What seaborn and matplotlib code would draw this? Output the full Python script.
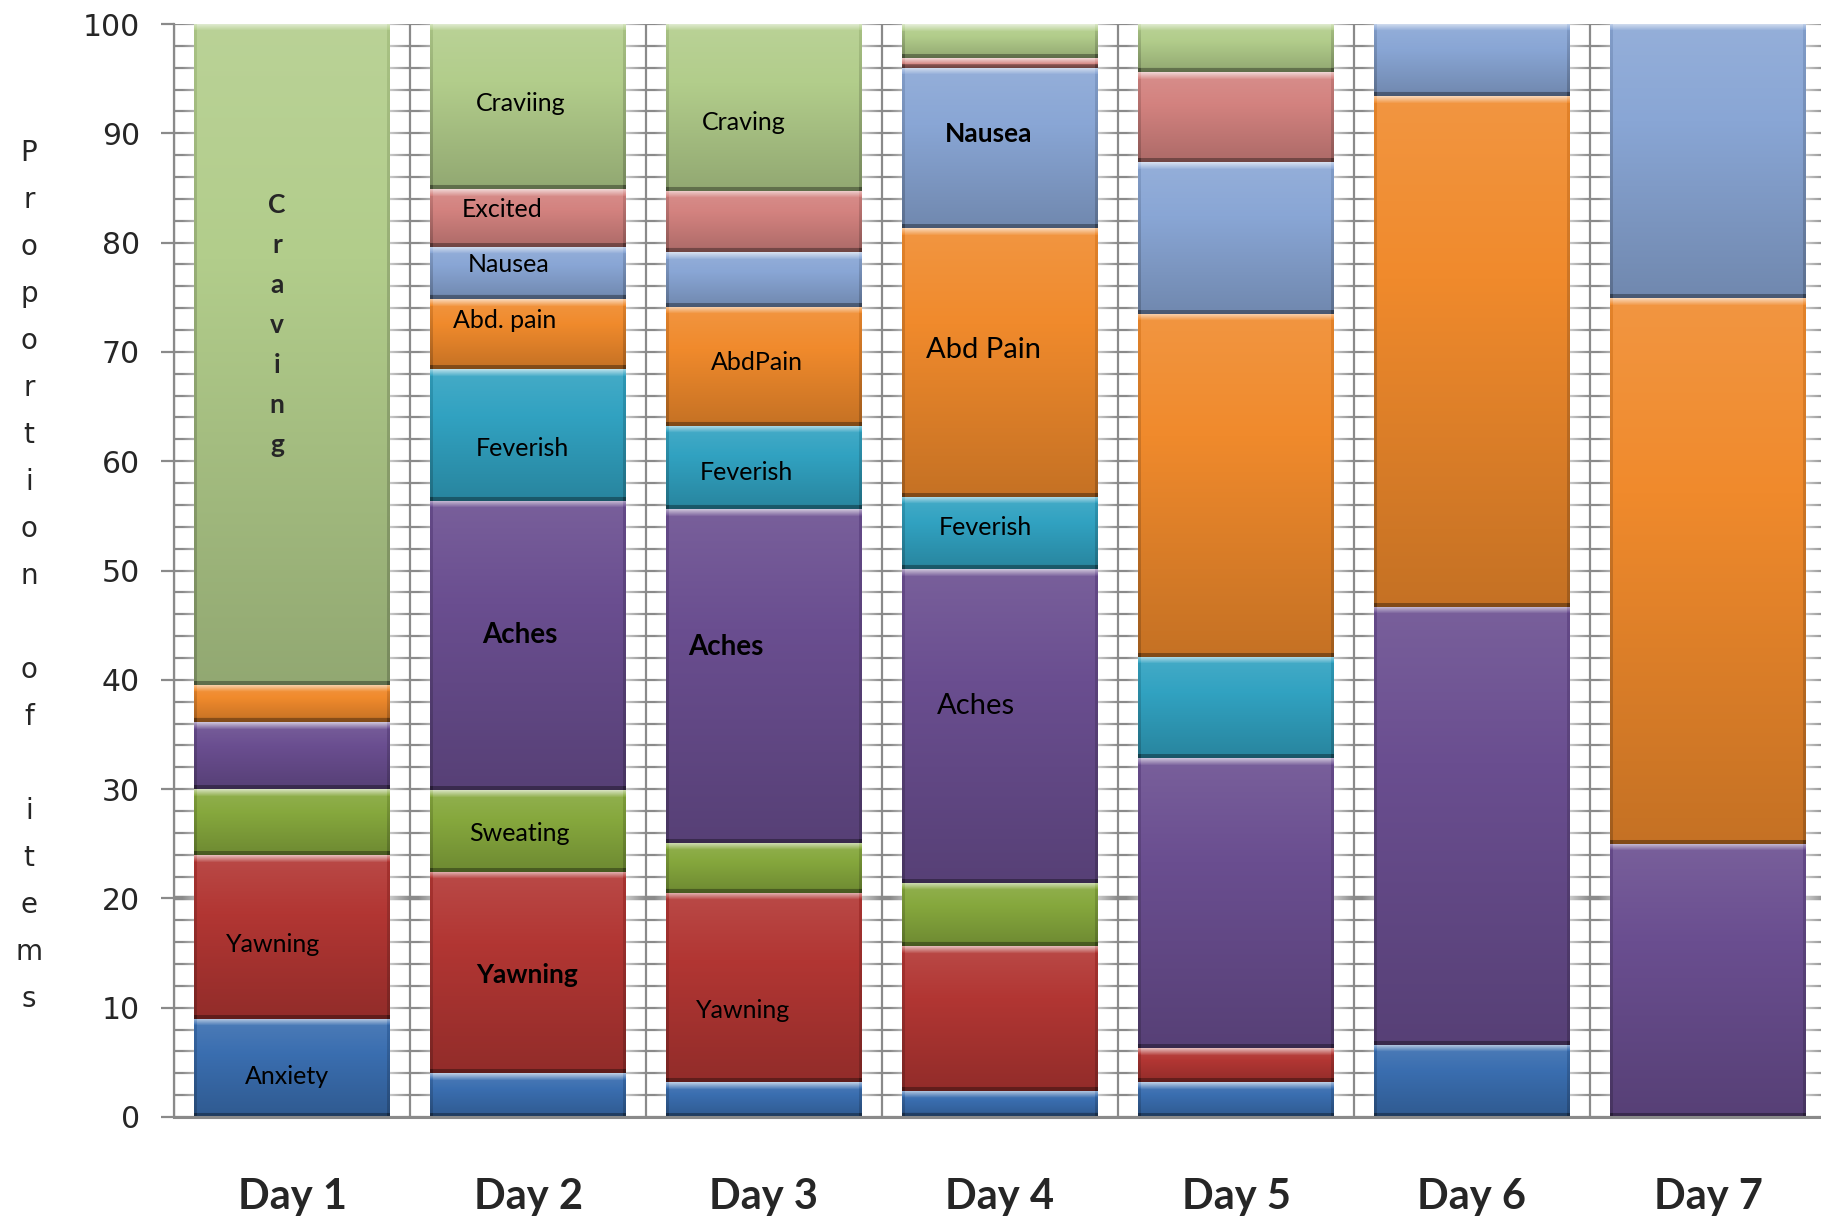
import numpy as np
import pandas as pd
import matplotlib
matplotlib.use("Agg")
import matplotlib.pyplot as plt
import seaborn as sns
from matplotlib.colors import to_rgb

# ---------------- data ----------------
days = ["Day 1", "Day 2", "Day 3", "Day 4", "Day 5", "Day 6", "Day 7"]
symptoms = ["Anxiety", "Yawning", "Sweating", "Aches", "Feverish",
            "Abd pain", "Nausea", "Excited", "Craving"]
anxiety  = [9.0, 4.0, 3.2, 2.4, 3.2, 6.6, 0.0]
yawning  = [15.0, 18.4, 17.3, 13.2, 3.1, 0.0, 0.0]
sweating = [6.0, 7.5, 4.6, 5.8, 0.0, 0.0, 0.0]
aches    = [6.1, 26.5, 30.5, 28.7, 26.5, 40.1, 25.0]
feverish = [0.0, 12.0, 7.6, 6.6, 9.3, 0.0, 0.0]
abd_pain = [3.4, 6.4, 10.9, 24.6, 31.4, 46.7, 49.9]
nausea   = [0.0, 4.8, 5.0, 14.7, 13.9, 6.6, 25.1]
excited  = [0.0, 5.3, 5.6, 0.9, 8.2, 0.0, 0.0]
craving  = [60.5, 15.1, 15.3, 3.1, 4.4, 0.0, 0.0]
series = [anxiety, yawning, sweating, aches, feverish, abd_pain, nausea, excited, craving]
colors = ["#3a6eb0", "#b23633", "#86a83d", "#6a4e90", "#31a2c1",
          "#f08a2c", "#89a6d5", "#d3827f", "#b2cd8b"]

# in-bar labels
lab_day    = [0, 0, 1, 1, 1, 1, 1, 1, 1, 1, 2, 2, 2, 2, 2, 3, 3, 3, 3]
lab_text   = ["Anxiety", "Yawning", "Craviing", "Excited", "Nausea", "Abd. pain",
              "Feverish", "Aches", "Sweating", "Yawning", "Craving", "AbdPain",
              "Feverish", "Aches", "Yawning", "Nausea", "Abd Pain", "Feverish", "Aches"]
lab_y      = [3.7, 15.8, 92.7, 83.0, 78.0, 72.9, 61.2, 44.1, 25.9, 13.0, 91.0, 69.0,
              59.0, 43.0, 9.7, 89.9, 70.2, 53.9, 37.6]
lab_dx     = [-0.02, -0.08, -0.03, -0.11, -0.08, -0.10, -0.025, -0.035, -0.035, -0.005,
              -0.085, -0.03, -0.075, -0.16, -0.09, -0.05, -0.07, -0.06, -0.10]
lab_size   = [18, 18, 18, 18, 18, 18, 18, 20, 18, 19, 18, 18, 18, 20, 18, 19, 21, 18, 21]
lab_weight = ["normal"] * 7 + ["bold", "normal", "bold"] + ["normal"] * 3 + \
             ["bold", "normal", "bold", "normal", "normal", "normal"]

# ---------------- figure ----------------
sns.set_theme(style="white")
plt.rcParams["font.family"] = ["DejaVu Sans"]

W, H = 1821, 1221
fig = plt.figure(figsize=(W / 100, H / 100), dpi=100)
ax_l, ax_r, ax_b, ax_t = 174, 1826, 1117, 24
ax = fig.add_axes([ax_l / W, 1 - ax_b / H, (ax_r - ax_l) / W, (ax_b - ax_t) / H])
PX_PER_UNIT = (ax_b - ax_t) / 100.0
PX_PER_CAT = (ax_r - ax_l) / 7.0

BAR_W = 0.83
bottom = np.zeros(len(days))
for vals, col, name in zip(series, colors, symptoms):
    sns.barplot(x=days, y=vals, bottom=bottom.copy(), color=col, width=BAR_W,
                saturation=1, errorbar=None, ax=ax, linewidth=0, zorder=2)
    bottom = bottom + np.array(vals)

GRID = "#8a8a8a"


def shade_patch(patch):
    x0, y0 = patch.get_x(), patch.get_y()
    w, h = patch.get_width(), patch.get_height()
    if h <= 0.01:
        patch.set_visible(False)
        return
    base = np.array(to_rgb(patch.get_facecolor()))
    nr = max(int(round(h * PX_PER_UNIT)), 3)
    nc = max(int(round(w * PX_PER_CAT)), 6)
    r = np.arange(nr)[:, None] * np.ones((1, nc))
    c = np.ones((nr, 1)) * np.arange(nc)[None, :]
    f = np.linspace(0.10, -0.18, nr)[:, None] * np.ones((1, nc))
    f = f + 0.55 * np.clip(1 - r / 7.0, 0, 1)
    f = np.where(r >= nr - 4, f - 0.28, f)
    f = np.where((c < 3) | (c >= nc - 3), f - 0.15, f)
    f3 = f[..., None]
    rgb = np.where(f3 > 0, base + f3 * (1 - base), base * (1 + f3))
    ax.imshow(np.clip(rgb, 0, 1), extent=(x0, x0 + w, y0, y0 + h), aspect="auto",
              interpolation="bilinear", zorder=2.1)


for p in list(ax.patches):
    shade_patch(p)

# soft white glow beside each bar
glow_r = np.ones((2, 40, 4))
glow_r[..., 3] = np.linspace(0.55, 0.0, 40)[None, :]
glow_l = glow_r[:, ::-1, :]
gw = 20 / PX_PER_CAT
for i in range(len(days)):
    x1 = i + BAR_W / 2
    x0 = i - BAR_W / 2
    ax.imshow(glow_r, extent=(x1, x1 + gw, 0, 100), aspect="auto",
              interpolation="bilinear", zorder=1.5)
    ax.imshow(glow_l, extent=(x0 - gw * 0.6, x0, 0, 100), aspect="auto",
              interpolation="bilinear", zorder=1.5, alpha=0.6)

# axes / grid
ax.set_xlim(-0.5, -0.5 + (ax_r - ax_l) / PX_PER_CAT)
ax.set_ylim(0, 100)
ax.set_yticks(np.arange(0, 101, 10))
ax.set_yticks(np.arange(0, 101, 2), minor=True)
ax.set_xticks(np.arange(-0.5, 7.0, 1.0), minor=True)
ax.set_axisbelow(True)
ax.grid(which="both", axis="y", color=GRID, lw=1.6)
ax.grid(which="minor", axis="x", color=GRID, lw=1.6)
ax.grid(which="major", axis="x", visible=False)
ax.axhline(20, color=GRID, lw=3.2, zorder=0.6)
for s in ["top", "right"]:
    ax.spines[s].set_visible(False)
ax.spines["left"].set_color(GRID)
ax.spines["left"].set_linewidth(1.6)
ax.spines["bottom"].set_color(GRID)
ax.spines["bottom"].set_linewidth(2.2)
ax.tick_params(axis="y", which="major", length=9.4, width=1.6, color=GRID,
               pad=15, labelsize=21.5, left=True)
ax.tick_params(axis="y", which="minor", length=0)
ax.tick_params(axis="x", which="both", length=0, pad=44)
ax.set_xticks(range(len(days)))
ax.set_xticklabels(days, fontsize=30, fontweight="bold", family="Lato")
ax.set_xlabel("")
ax.set_ylabel("")

# in-bar labels
for d, t, y, dx, sz, wt in zip(lab_day, lab_text, lab_y, lab_dx, lab_size, lab_weight):
    ax.text(d + dx, y, t, ha="center", va="center", fontsize=sz, fontweight=wt,
            family="Lato", color="black", zorder=5)

# vertical "Craving" on Day 1
ax.text(-0.064, 72.5, "\n".join("Craving"), ha="center", va="center", fontsize=19,
        fontweight="bold", family="Lato", linespacing=1.8, zorder=5)

# stacked y-axis title
fig.text(29 / W, 1 - 576 / H, "\n".join("Proportion of items"), ha="center",
         va="center", fontsize=20, linespacing=1.865)

fig.savefig("out.png", dpi=100)
